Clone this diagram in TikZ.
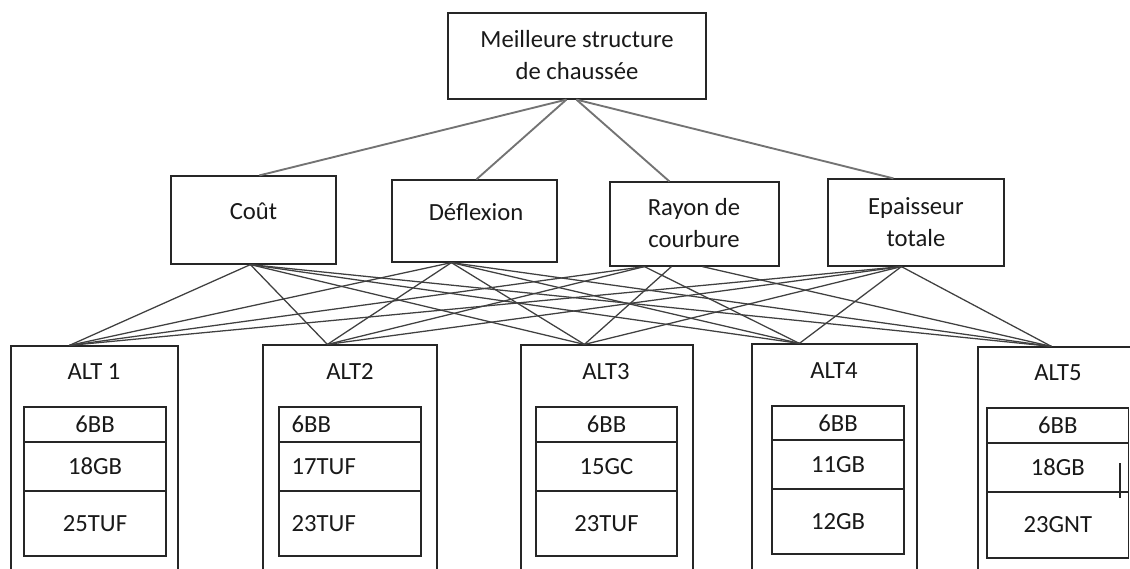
\documentclass[tikz,border=0pt]{standalone}
\usepackage{fontspec}
\setmainfont{Carlito}
\usetikzlibrary{fit,calc}
\begin{document}
\begin{tikzpicture}[x=0.75pt,y=-0.75pt,
  box/.style={draw=black!85, line width=0.9pt, inner sep=0pt},
  lbl/.style={font=\fontsize{18.5}{24}\selectfont, text=black!90, align=center, inner sep=0pt},
  topln/.style={draw=black!55, line width=1.4pt},
  ln/.style={draw=black!75, line width=0.95pt}]
\clip (0,0) rectangle (1130,568);
\fill[white] (0,0) rectangle (1130,568);

% goal
\node[box, fit={(448,13)(706,99)}] (goal) {};
\node[lbl] (goalt) at (577,55) {Meilleure structure\\de chaussée};

% criteria
\node[box, fit={(171,176)(336,264)}] (c1) {};
\node[lbl, anchor=base] (c1t) at (253.5,219) {Coût};
\node[box, fit={(392,180)(557,262)}] (c2) {};
\node[lbl, anchor=base] (c2t) at (476,220) {Déflexion};
\node[box, fit={(610,182)(779,266)}] (c3) {};
\node[lbl] (c3t) at (694,223) {Rayon de\\courbure};
\node[box, fit={(828,179)(1004,266)}] (c4) {};
\node[lbl] (c4t) at (916,222) {Epaisseur\\totale};

% alternatives (outer boxes)
\node[box, fit={(11,346)(178,600)}] (a1) {};
\node[box, fit={(263,345)(437,600)}] (a2) {};
\node[box, fit={(521,345)(693,600)}] (a3) {};
\node[box, fit={(752,344)(917,600)}] (a4) {};
\node[box, fit={(978,347)(1160,600)}] (a5) {};
\node[lbl, anchor=base] (a1t) at (94,379) {ALT 1};
\node[lbl, anchor=base] (a2t) at (350,379) {ALT2};
\node[lbl, anchor=base] (a3t) at (606,379) {ALT3};
\node[lbl, anchor=base] (a4t) at (834,378) {ALT4};
\node[lbl, anchor=base] (a5t) at (1058,380) {ALT5};

% layers ALT1
\node[box, fit={(24,407)(166,442)}] (a1l1) {};
\node[box, fit={(24,442)(166,491)}] (a1l2) {};
\node[box, fit={(24,491)(166,556)}] (a1l3) {};
\node[lbl] at (a1l1.center) {6BB};
\node[lbl] at (a1l2.center) {18GB};
\node[lbl] at (a1l3.center) {25TUF};
% layers ALT2
\node[box, fit={(279,407)(421,442)}] (a2l1) {};
\node[box, fit={(279,442)(421,491)}] (a2l2) {};
\node[box, fit={(279,491)(421,556)}] (a2l3) {};
\node[lbl, anchor=west] at ($(a2l1.west)+(13,0)$) {6BB};
\node[lbl, anchor=west] at ($(a2l2.west)+(13,0)$) {17TUF};
\node[lbl, anchor=west] at ($(a2l3.west)+(13,0)$) {23TUF};
% layers ALT3
\node[box, fit={(536,407)(677,442)}] (a3l1) {};
\node[box, fit={(536,442)(677,491)}] (a3l2) {};
\node[box, fit={(536,491)(677,556)}] (a3l3) {};
\node[lbl] at (a3l1.center) {6BB};
\node[lbl] at (a3l2.center) {15GC};
\node[lbl] at (a3l3.center) {23TUF};
% layers ALT4
\node[box, fit={(772,406)(904,440)}] (a4l1) {};
\node[box, fit={(772,440)(904,489)}] (a4l2) {};
\node[box, fit={(772,489)(904,554)}] (a4l3) {};
\node[lbl] at (a4l1.center) {6BB};
\node[lbl] at (a4l2.center) {11GB};
\node[lbl] at (a4l3.center) {12GB};
% layers ALT5
\node[box, fit={(987,408)(1128.5,443)}] (a5l1) {};
\node[box, fit={(987,443)(1128.5,492)}] (a5l2) {};
\node[box, fit={(987,492)(1128.5,558)}] (a5l3) {};
\node[lbl] at (a5l1.center) {6BB};
\node[lbl] at (a5l2.center) {18GB};
\node[lbl] at (a5l3.center) {23GNT};
\coordinate (tk1) at (1120,463);
\coordinate (tk2) at (1120,498);
\draw[black!85, line width=0.8pt] (tk1) -- (tk2);

% attachment points
\coordinate (gL) at ($(goal.south west)+(119,0)$);
\coordinate (gR) at ($(goal.south west)+(129,0)$);
\coordinate (c1n) at ($(c1.north west)+(89,0)$);
\coordinate (c2n) at ($(c2.north west)+(85,0)$);
\coordinate (c3n) at ($(c3.north west)+(60,0)$);
\coordinate (c4n) at ($(c4.north west)+(66,0)$);
\coordinate (c1s) at ($(c1.south west)+(80,0)$);
\coordinate (c2s) at ($(c2.south west)+(60,0)$);
\coordinate (c3sa) at ($(c3.south west)+(35,0)$);
\coordinate (c3sb) at ($(c3.south west)+(62,0)$);
\coordinate (c3sc) at ($(c3.south west)+(93,0)$);
\coordinate (c4s) at ($(c4.south west)+(74,0)$);
\coordinate (a1n) at ($(a1.north west)+(59,0)$);
\coordinate (a2n) at ($(a2.north west)+(65,0)$);
\coordinate (a3n) at ($(a3.north west)+(64,0)$);
\coordinate (a4n) at ($(a4.north west)+(48,0)$);
\coordinate (a5n) at ($(a5.north west)+(74,0)$);

% goal to criteria
\draw[topln] (gL) -- (c1n);
\draw[topln] (gL) -- (c2n);
\draw[topln] (gR) -- (c3n);
\draw[topln] (gR) -- (c4n);

% criteria to alternatives
\foreach \a in {a1n,a2n,a3n,a4n,a5n}{
  \draw[ln] (c1s) -- (\a);
  \draw[ln] (c2s) -- (\a);
  \draw[ln] (c4s) -- (\a);
}
\draw[ln] (c3sa) -- (a1n);
\draw[ln] (c3sa) -- (a2n);
\draw[ln] (c3sb) -- (a3n);
\draw[ln] (c3sa) -- (a4n);
\draw[ln] (c3sc) -- (a5n);
\end{tikzpicture}
\end{document}
